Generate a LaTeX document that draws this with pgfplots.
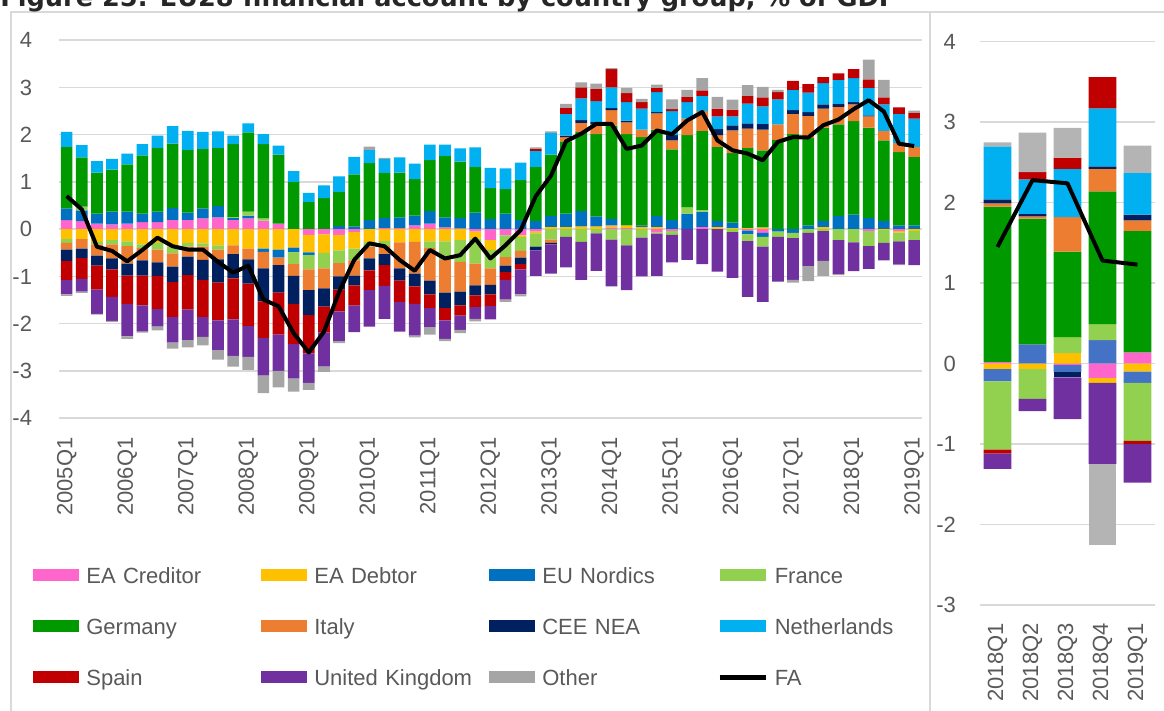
\documentclass[border=0pt]{standalone}
\usepackage{pgfplots}
\pgfplotsset{compat=1.18}
\usepackage{pgfplotstable}
\usepackage{fontspec}
\setmainfont{Liberation Sans}
\newfontfamily\titlefont{DejaVu Sans}

\definecolor{cP}{HTML}{FF66CC}
\definecolor{cY}{HTML}{FFC000}
\definecolor{cB}{HTML}{0070C0}
\definecolor{cBr}{HTML}{4472C4}
\definecolor{cF}{HTML}{92D050}
\definecolor{cG}{HTML}{009900}
\definecolor{cI}{HTML}{ED7D31}
\definecolor{cC}{HTML}{002060}
\definecolor{cN}{HTML}{00B0F0}
\definecolor{cS}{HTML}{C00000}
\definecolor{cU}{HTML}{7030A0}
\definecolor{cO}{HTML}{A5A5A5}
\definecolor{cOr}{HTML}{B4B4B4}
\definecolor{tickgray}{HTML}{595959}
\definecolor{gridgray}{HTML}{D9D9D9}

% EA Creditor (P), EA Debtor (Y), EU Nordics (B), France (F), Germany (G), Italy (I),
% CEE NEA (C), Netherlands (N), Spain (S), United Kingdom (U), Other (O), FA
\pgfplotstableread{
X P Y B F G I C N S U O FA
0 0.19 -0.21 0.25 -0.08 1.30 -0.14 -0.24 0.32 -0.41 -0.30 -0.03 0.70
1 0.17 -0.21 0.23 0.08 1.04 -0.20 -0.20 0.26 -0.44 -0.27 -0.03 0.42
2 0.12 -0.27 0.21 -0.05 0.87 -0.24 -0.21 0.24 -0.51 -0.51 -0.02 -0.37
3 0.10 -0.23 0.27 -0.09 0.89 -0.30 -0.23 0.23 -0.58 -0.51 -0.02 -0.46
4 0.12 -0.26 0.25 -0.10 1.00 -0.37 -0.25 0.23 -0.60 -0.69 -0.05 -0.68
5 0.15 -0.32 0.18 -0.08 1.23 -0.26 -0.32 0.24 -0.63 -0.56 -0.02 -0.44
6 0.15 -0.29 0.22 -0.14 1.35 -0.27 -0.29 0.26 -0.70 -0.37 -0.08 -0.18
7 0.20 -0.37 0.25 -0.14 1.36 -0.28 -0.33 0.37 -0.74 -0.54 -0.13 -0.36
8 0.20 -0.29 0.15 -0.08 1.33 -0.21 -0.39 0.40 -0.73 -0.65 -0.15 -0.43
9 0.23 -0.30 0.21 -0.07 1.26 -0.28 -0.42 0.36 -0.79 -0.42 -0.18 -0.43
10 0.25 -0.34 0.24 -0.09 1.23 -0.21 -0.49 0.35 -0.80 -0.63 -0.20 -0.69
11 0.20 -0.34 0.04 0.02 1.54 -0.19 -0.51 0.18 -0.87 -0.77 -0.23 -0.92
12 0.23 -0.41 0.06 0.08 1.68 -0.23 -0.51 0.19 -0.90 -0.65 -0.28 -0.77
13 0.18 -0.41 -0.07 0.05 1.57 -0.35 -0.70 0.21 -0.77 -0.80 -0.37 -1.49
14 0.12 -0.43 -0.17 0 1.46 -0.16 -0.58 0.19 -0.89 -0.77 -0.35 -1.63
15 0 -0.39 -0.10 -0.25 1.00 -0.25 -0.59 0.23 -0.85 -0.73 -0.28 -2.20
16 -0.12 -0.37 -0.06 -0.30 0.58 -0.44 -0.53 0.19 -0.81 -0.62 -0.15 -2.61
17 -0.11 -0.39 0 -0.33 0.66 -0.42 -0.39 0.27 -0.55 -0.72 -0.11 -2.17
18 -0.12 -0.33 0.07 -0.27 0.72 -0.28 -0.28 0.33 -0.46 -0.63 -0.04 -1.33
19 -0.06 -0.35 0.06 -0.25 1.10 -0.32 -0.21 0.37 -0.43 -0.56 0 -0.65
20 0 -0.27 0.19 -0.10 1.21 -0.25 -0.25 0.28 -0.42 -0.77 0.07 -0.30
21 0.03 -0.25 0.21 -0.11 0.95 -0.17 -0.23 0.30 -0.44 -0.70 0.02 -0.36
22 0.03 -0.28 0.22 0 0.95 -0.55 -0.26 0.32 -0.45 -0.63 0 -0.65
23 0.08 -0.27 0.21 0 0.77 -0.67 -0.27 0.33 -0.37 -0.67 -0.04 -0.88
24 0.12 -0.26 0.26 -0.14 1.08 -0.69 -0.29 0.33 -0.29 -0.40 -0.16 -0.44
25 0.04 -0.26 0.21 -0.39 1.30 -0.69 -0.33 0.24 -0.26 -0.39 -0.05 -0.62
26 0.02 -0.23 0.22 -0.46 1.19 -0.63 -0.29 0.28 -0.22 -0.30 -0.07 -0.55
27 -0.05 -0.15 0.35 -0.53 0.97 -0.46 -0.21 0.41 -0.25 -0.25 -0.05 -0.20
28 -0.23 -0.21 0.22 -0.39 0.65 -0.35 -0.20 0.43 -0.25 -0.28 0 -0.62
29 -0.13 0 0.33 -0.46 0.52 -0.18 -0.14 0.44 -0.16 -0.42 -0.05 -0.34
30 -0.13 -0.03 0.19 -0.30 0.85 -0.14 -0.14 0.37 -0.11 -0.53 -0.04 -0.02
31 -0.05 -0.04 0.17 -0.28 1.15 0 -0.08 0.34 0.04 -0.54 0.03 0.70
32 0 0.05 0.23 -0.22 1.30 -0.07 -0.03 0.46 0 -0.62 0.03 1.13
33 0 0.05 0.28 -0.16 1.53 0.09 0.03 0.46 0.13 -0.65 0.08 1.86
34 0 0.06 0.32 -0.27 1.68 0.19 0.06 0.46 0.23 -0.80 0.11 2.02
35 0 0.06 0.21 -0.09 1.74 0.21 0.05 0.44 0.26 -0.79 0.11 2.23
36 0.04 0.04 0.14 -0.22 1.97 0.33 0.04 0.44 0.39 -0.99 0.02 2.23
37 0.03 0.05 0 -0.34 1.93 0.25 0.04 0.39 0.19 -0.95 0.11 1.70
38 0 0.05 0.03 -0.18 1.87 0.16 0 0.44 0.14 -0.82 0.07 1.77
39 -0.07 0.05 0.23 -0.03 1.83 0.34 0.03 0.42 0.09 -0.89 0.07 2.09
40 -0.04 0 0.20 -0.08 1.49 0.19 0.11 0.51 0.04 -0.58 0.21 2.01
41 0 0 0.33 0.13 1.53 0.35 0 0.35 0.11 -0.65 0.15 2.30
42 0.05 0 0.32 0.04 1.67 0.42 0 0.32 0.12 -0.74 0.26 2.48
43 0 0.05 0.12 0 1.57 0.25 0.13 0.27 0.16 -0.90 0.25 1.88
44 0 0.03 0.11 -0.06 1.47 0.48 0.11 0.19 0.14 -0.97 0.21 1.67
45 -0.03 0.03 -0.08 -0.14 1.69 0.41 0.11 0.42 0.16 -1.18 0.23 1.60
46 -0.08 0.04 -0.08 -0.21 1.63 0.44 0.12 0.37 0.19 -1.17 0.22 1.46
47 0 0 -0.05 -0.11 1.89 0.33 0 0.53 0.15 -0.95 0.05 1.85
48 0 0 -0.08 -0.11 2.02 0.42 0.08 0.43 0.19 -0.88 -0.06 1.95
49 0 0 0.08 -0.08 1.85 0.47 0.08 0.41 0.18 -0.70 -0.32 1.94
50 0 0.05 0.12 -0.04 1.98 0.40 0.09 0.45 0.13 -0.63 -0.32 2.20
51 0 0 0.28 -0.23 1.94 0.37 0.06 0.51 0.14 -0.72 -0.02 2.32
52 0 0 0.31 -0.28 1.98 0.35 0.05 0.51 0.19 -0.61 0 2.54
53 -0.04 0 0.24 -0.32 1.91 0.24 0.02 0.58 0.18 -0.48 0.42 2.73
54 0 -0.02 0.17 -0.27 1.71 0.20 0 0.56 0.15 -0.37 0.37 2.49
55 -0.04 -0.03 0.08 -0.19 1.55 0.19 0 0.62 0.14 -0.49 -0.01 1.81
56 0 -0.04 0.08 -0.19 1.45 0.21 0 0.60 0.12 -0.53 0.05 1.76
}\ldata

\pgfplotstableread{
X P Y B F G I C N S U O FA
0 0.02 -0.07 -0.15 -0.85 1.93 0.04 0.05 0.66 -0.05 -0.19 0.05 1.45
1 0 -0.07 0.24 -0.37 1.56 0.03 0.03 0.43 0.09 -0.15 0.49 2.28
2 -0.02 0.13 -0.09 0.20 1.06 0.43 -0.06 0.60 0.14 -0.52 0.37 2.24
3 -0.18 -0.06 0.29 0.20 1.65 0.28 0.03 0.72 0.39 -1.01 -1.01 1.28
4 0.14 -0.10 -0.14 -0.72 1.51 0.13 0.07 0.52 -0.04 -0.48 0.34 1.23
}\rdata

\pgfplotsset{
  bl/.style={fill=#1, draw=none,
    legend image code/.code={\fill[#1] (0pt,-3pt) rectangle (23pt,3pt);}},
  panel/.style={scale only axis, anchor=south west, ybar stacked,
    reverse stacked plots=false,
    axis line style={draw=none}, major tick length=0pt, enlargelimits=false,
    tick label style={font=\fontsize{11}{13}\selectfont, text=tickgray}},
  lpanel/.style={panel, at={(29.55pt,146.4pt)}, width=431.3pt, height=189pt,
    xmin=-0.5, xmax=56.5, ymin=-4, ymax=4, bar width=0.77},
  rpanel/.style={panel, at={(490pt,53pt)}, width=87.5pt, height=281.65pt,
    xmin=-0.5, xmax=4.5, ymin=-3, ymax=4, bar width=0.79},
  faline/.style={black, line width=2pt, sharp plot, stack plots=false, no marks, line join=round},
}

\newcommand\lpos[3]{\addplot[bl=#2] table[x=X, y expr={max(\thisrow{#1},0)}] {\ldata}; \addlegendentry{#3}}
\newcommand\lneg[2]{\addplot[bl=#2] table[x=X, y expr={min(\thisrow{#1},0)}] {\ldata};}
\newcommand\rpos[2]{\addplot[bl=#2] table[x=X, y expr={max(\thisrow{#1},0)}] {\rdata};}
\newcommand\rneg[2]{\addplot[bl=#2] table[x=X, y expr={min(\thisrow{#1},0)}] {\rdata};}

\begin{document}
\begin{tikzpicture}
\useasboundingbox (0pt,0pt) rectangle (582pt,355.5pt);
% frame
\draw[gridgray, line width=1pt] (5.25pt,0pt) -- (5.25pt,349.4pt) -- (582pt,349.4pt);
\draw[gridgray, line width=1.2pt] (465pt,0pt) -- (465pt,349.4pt);
% title (partly cut off at the top, as in the reference)
\node[anchor=base west, inner sep=0pt, text=black!85] at (0pt,352pt)
  {\titlefont\bfseries\fontsize{12.8}{14}\selectfont Figure 25: EU28 financial account by country group, \% of GDP};

% ---------- left panel: positive stack ----------
\begin{axis}[lpanel,
  ymajorgrids, grid style={gridgray, line width=0.75pt},
  ytick={-4,-3,-2,-1,0,1,2,3,4}, yticklabels={-4,-3,-2,-1,0,1,2,3,4},
  yticklabel shift=10pt,
  xtick={0,4,...,56},
  xticklabels={2005Q1,2006Q1,2007Q1,2008Q1,2009Q1,2010Q1,2011Q1,2012Q1,2013Q1,2014Q1,2015Q1,2016Q1,2017Q1,2018Q1,2019Q1},
  xticklabel style={rotate=90, anchor=east, inner sep=0pt},
  xticklabel shift=9.5pt,
  legend columns=4,
  legend style={at={(-0.0303,-0.394)}, anchor=north west, draw=none, fill=none,
    inner sep=0pt, row sep=17.6pt,
    font=\fontsize{11}{13}\selectfont, text=tickgray,
    nodes={inner sep=0pt, text width=81pt, align=left, text height=7.9pt, text depth=0pt},
    /tikz/every odd column/.style={column sep=3.5pt},
    /tikz/every even column/.style={column sep=6.5pt}},
  legend cell align=left,
]
\lpos{P}{cP}{EA Creditor}
\lpos{Y}{cY}{EA Debtor}
\lpos{B}{cB}{EU Nordics}
\lpos{F}{cF}{France}
\lpos{G}{cG}{Germany}
\lpos{I}{cI}{Italy}
\lpos{C}{cC}{CEE NEA}
\lpos{N}{cN}{Netherlands}
\lpos{S}{cS}{Spain}
\lpos{U}{cU}{United Kingdom}
\lpos{O}{cO}{Other}
\addlegendimage{legend image code/.code={\draw[black, line width=2.2pt] (0pt,0pt) -- (23pt,0pt);}}
\addlegendentry{FA}
\end{axis}

% ---------- left panel: negative stack + FA ----------
\begin{axis}[lpanel, xtick=\empty, ytick=\empty]
\lneg{P}{cP}
\lneg{Y}{cY}
\lneg{B}{cB}
\lneg{F}{cF}
\lneg{G}{cG}
\lneg{I}{cI}
\lneg{C}{cC}
\lneg{N}{cN}
\lneg{S}{cS}
\lneg{U}{cU}
\lneg{O}{cO}
\addplot[faline] table[x=X, y=FA] {\ldata};
\end{axis}

% ---------- right panel: positive stack ----------
\begin{axis}[rpanel,
  ymajorgrids, grid style={gridgray, line width=0.75pt},
  ytick={-3,-2,-1,0,1,2,3,4}, yticklabels={-3,-2,-1,0,1,2,3,4},
  yticklabel shift=8.5pt,
  xtick={0,1,2,3,4},
  xticklabels={2018Q1,2018Q2,2018Q3,2018Q4,2019Q1},
  xticklabel style={rotate=90, anchor=east, inner sep=0pt},
  xticklabel shift=9pt,
]
\rpos{P}{cP}
\rpos{Y}{cY}
\rpos{B}{cBr}
\rpos{F}{cF}
\rpos{G}{cG}
\rpos{I}{cI}
\rpos{C}{cC}
\rpos{N}{cN}
\rpos{S}{cS}
\rpos{U}{cU}
\rpos{O}{cOr}
\end{axis}

% ---------- right panel: negative stack + FA ----------
\begin{axis}[rpanel, xtick=\empty, ytick=\empty]
\rneg{P}{cP}
\rneg{Y}{cY}
\rneg{B}{cBr}
\rneg{F}{cF}
\rneg{G}{cG}
\rneg{I}{cI}
\rneg{C}{cC}
\rneg{N}{cN}
\rneg{S}{cS}
\rneg{U}{cU}
\rneg{O}{cOr}
\addplot[faline] table[x=X, y=FA] {\rdata};
\end{axis}
\end{tikzpicture}
\end{document}
